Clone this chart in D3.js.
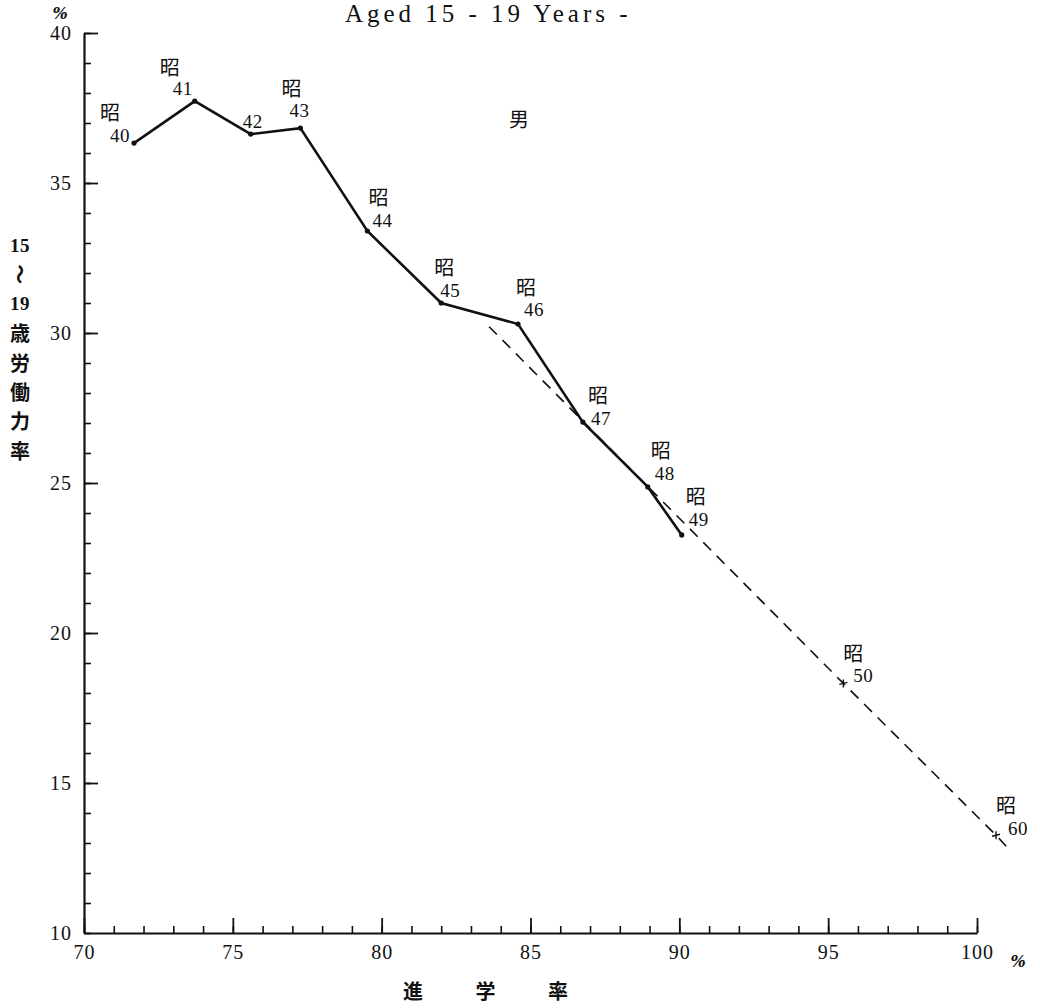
<!DOCTYPE html>
<html>
<head>
<meta charset="utf-8">
<script src="https://cdn.jsdelivr.net/npm/d3@7"></script>
<style>
  body { margin: 0; background: #fff; }
  svg { display: block; }
  text { fill: #111; }
  .num { font-family: "Liberation Serif", serif; font-size: 19px; letter-spacing: 0.5px; }
  .jp { font-family: "Noto Sans CJK JP", sans-serif; font-size: 20px; }
</style>
</head>
<body>
<div class="canvas"></div>
<script>
// Data
const years = ['40','41','42','43','44','45','46','47','48','49'];
const showa = [true, true, false, true, true, true, true, true, true, true];
const entryRate = [71.68, 73.72, 75.6, 77.27, 79.52, 82.0, 84.58, 86.76, 88.94, 90.08];
const laborRate = [36.33, 37.73, 36.63, 36.83, 33.4, 31.0, 30.3, 27.03, 24.87, 23.27];

// projection (dashed)
const trendYears = ['', '50', '60', ''];
const trendRate = [83.61, 95.51, 100.64, 101.04];
const trendLabor = [30.21, 18.32, 13.26, 12.83];

const xTicks = [70, 75, 80, 85, 90, 95, 100];
const yTicks = [10, 15, 20, 25, 30, 35, 40];

// label offsets from the point: [昭 dx, 昭 dy, number dx, number dy]
const labelOffsets = [
  [-24,-32,-14,-8], [-25,-35,-12,-13], [0,0,2,-13], [-9,-41,-1,-18],
  [11,-35,15,-11], [3,-37,9,-13], [8,-38,16,-15], [15,-28,18,-4],
  [13,-37,17,-13], [14,-39,17,-15]
];
const trendOffsets = [null, [10,-31,20,-8], [10,-31,22,-7], null];

// Graph set up
const svgWidth = 1040;
const svgHeight = 1008;
const margin = {top:33, right:63, bottom:75, left:84};
const graphWidth = svgWidth - margin.left - margin.right;
const graphHeight = svgHeight - margin.top - margin.bottom;

const svg = d3.select('.canvas')
    .append('svg')
    .attr('width',svgWidth)
    .attr('height',svgHeight);

const graph = svg.append('g')
    .attr('transform',`translate(${margin.left},${margin.top})`);

// Scales
const x = d3.scaleLinear().domain([70,100]).range([0,graphWidth]);
const y = d3.scaleLinear().domain([10,40]).range([graphHeight,0]);

// Minor ticks
graph.append('g')
    .attr('transform',`translate(0,${graphHeight})`)
    .call(d3.axisBottom(x).tickValues(d3.range(70,101,1)).tickSize(-7).tickFormat(''))
    .call(g => g.select('.domain').remove())
    .selectAll('line').attr('stroke','#111').attr('stroke-width',1.6);

graph.append('g')
    .call(d3.axisLeft(y).tickValues(d3.range(10,41,1)).tickSize(-7).tickFormat(''))
    .call(g => g.select('.domain').remove())
    .selectAll('line').attr('stroke','#111').attr('stroke-width',1.6);

// Major axes
const xAxisGroup = graph.append('g')
    .attr('transform',`translate(0,${graphHeight})`)
    .call(d3.axisBottom(x).tickValues(xTicks).tickSize(-15).tickSizeOuter(0).tickPadding(12).tickFormat(d => d));

const yAxisGroup = graph.append('g')
    .call(d3.axisLeft(y).tickValues(yTicks).tickSize(-14).tickSizeOuter(0).tickPadding(12).tickFormat(d => d));

[xAxisGroup, yAxisGroup].forEach(g => {
  g.select('.domain').attr('stroke','#111').attr('stroke-width',2.2);
  g.selectAll('line').attr('stroke','#111').attr('stroke-width',1.8);
  g.selectAll('text').attr('fill','#111')
    .style('font-family','"Liberation Serif", serif').style('font-size','20px')
    .style('letter-spacing','1px');
});
yAxisGroup.select('.tick:first-of-type line').remove();

// Line generator
const line = d3.line()
    .x(d => x(d.rate))
    .y(d => y(d.labor));

const solid = years.map((yr,i) => ({year: yr, rate: entryRate[i], labor: laborRate[i], showa: showa[i], off: labelOffsets[i]}));
const trend = trendYears.map((yr,i) => ({year: yr, rate: trendRate[i], labor: trendLabor[i], showa: yr !== '', off: trendOffsets[i]}));

// dashed projection
graph.append('path')
    .datum(trend)
    .attr('fill','none')
    .attr('stroke','#111')
    .attr('stroke-width',1.6)
    .attr('stroke-dasharray','11,8')
    .attr('d',line);

// solid actual
graph.append('path')
    .datum(solid)
    .attr('fill','none')
    .attr('stroke','#111')
    .attr('stroke-width',2.6)
    .attr('d',line);

graph.selectAll('circle.pt')
    .data(solid)
    .enter()
    .append('circle')
        .attr('class','pt')
        .attr('r',2.6)
        .attr('cx',d => x(d.rate))
        .attr('cy',d => y(d.labor))
        .attr('fill','#111');

// small cross marks on projection
const marks = trend.filter(d => d.year !== '');
graph.selectAll('path.cross')
    .data(marks)
    .enter()
    .append('path')
        .attr('class','cross')
        .attr('d',d => {
          const cx = x(d.rate), cy = y(d.labor);
          return `M${cx-4},${cy+1}L${cx+4},${cy-1}M${cx},${cy-4}L${cx},${cy+4}`;
        })
        .attr('stroke','#111')
        .attr('stroke-width',1.4);

// point labels
const labelled = solid.concat(marks);
labelled.forEach(d => {
  const px = x(d.rate), py = y(d.labor);
  if (d.showa) {
    graph.append('text')
        .attr('class','jp')
        .attr('x',px + d.off[0])
        .attr('y',py + d.off[1])
        .attr('text-anchor','middle')
        .attr('dominant-baseline','central')
        .text('昭');
  }
  graph.append('text')
      .attr('class','num')
      .attr('x',px + d.off[2])
      .attr('y',py + d.off[3])
      .attr('text-anchor','middle')
      .attr('dominant-baseline','central')
      .text(d.year);
});

// Title (cut off at the top)
svg.append('text')
    .attr('class','num')
    .attr('x',345)
    .attr('y',22)
    .attr('textLength',283)
    .attr('lengthAdjust','spacing')
    .style('font-size','25px')
    .style('white-space','pre')
    .text('Aged 15 - 19 Years -');

// 男
svg.append('text')
    .attr('class','jp')
    .attr('x',519)
    .attr('y',118)
    .attr('text-anchor','middle')
    .attr('dominant-baseline','central')
    .text('男');

// percent marks
[[60,13],[1018,961]].forEach(p => {
  svg.append('text')
      .attr('x',p[0]).attr('y',p[1])
      .attr('text-anchor','middle').attr('dominant-baseline','central')
      .style('font-family','"DejaVu Serif", serif').style('font-size','16px')
      .style('font-weight','bold').style('font-style','italic')
      .text('%');
});

// y axis title, vertical
const yTitle = ['15','〜','19','歳','労','働','力','率'];
yTitle.forEach((t,i) => {
  const ty = 245 + i * 29.3;
  const el = svg.append('text')
      .attr('x',20)
      .attr('y',ty)
      .attr('text-anchor','middle')
      .attr('dominant-baseline','central')
      .text(t);
  if (/\d/.test(t)) {
    el.attr('class','num').style('font-weight','bold');
  } else {
    el.attr('class','jp').style('font-weight','bold');
  }
  if (t === '〜') el.attr('transform',`rotate(90,20,${ty})`);
});

// x axis title
const xTitle = ['進','学','率'];
xTitle.forEach((t,i) => {
  svg.append('text')
      .attr('class','jp')
      .attr('x',413 + i * 72.5)
      .attr('y',990)
      .attr('text-anchor','middle')
      .attr('dominant-baseline','central')
      .style('font-weight','bold')
      .text(t);
});
</script>
</body>
</html>
